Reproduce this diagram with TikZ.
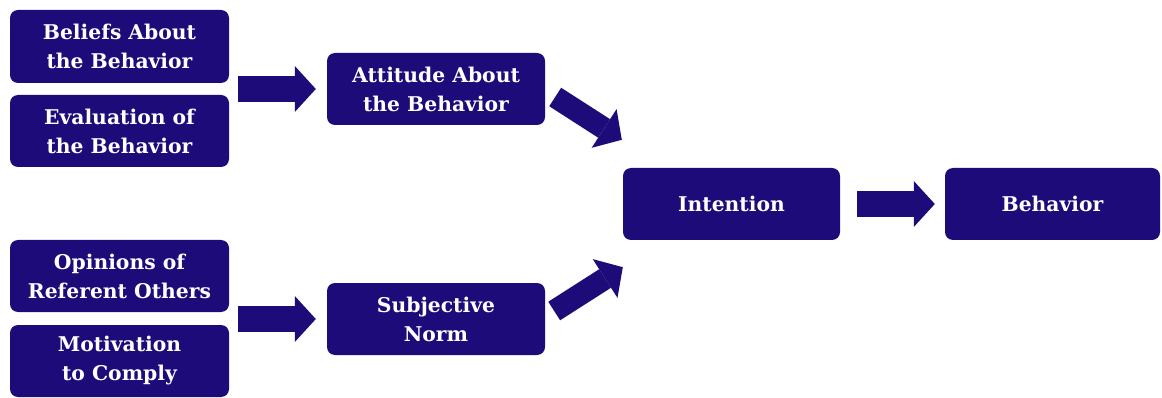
\documentclass[tikz,border=0pt]{standalone}
\usepackage{fontspec}
\setmainfont{DejaVu Serif}
\usetikzlibrary{arrows.meta,calc}
\definecolor{navy}{RGB}{29,11,122}
\tikzset{
  box/.style={fill=navy, rounded corners=8pt, text=white, align=center,
    inner sep=0pt, minimum width=219pt, minimum height=72pt,
    font=\fontsize{20.3}{29}\selectfont\bfseries},
  barrow/.style={draw=navy, line width=#1, line cap=butt,
    -{Triangle[length=21pt, width=46pt, line width=0pt]}},
  barrow/.default=26pt
}
\begin{document}
\begin{tikzpicture}[x=1pt,y=-1pt]
\useasboundingbox (0,0) rectangle (1162,398);
\node[box, minimum height=73pt] (bel) at (119.5,46.5) {Beliefs About\\the Behavior};
\node[box] (eva) at (119.5,131) {Evaluation of\\the Behavior};
\node[box, minimum width=218pt] (att) at (436,89) {Attitude About\\the Behavior};
\node[box] (opi) at (119.5,276) {Opinions of\\Referent Others};
\node[box] (mot) at (119.5,361) {Motivation\\to Comply};
\node[box, minimum width=218pt] (sub) at (436,319) {Subjective\\Norm};
\node[box, minimum width=217pt] (int) at (731.5,204) {Intention};
\node[box, minimum width=215pt] (beh) at (1052.5,204) {Behavior};
\coordinate (a1s) at ($(att.west)+(-89,0)$);
\coordinate (a1e) at ($(att.west)+(-11,0)$);
\coordinate (a2s) at ($(sub.west)+(-89,0)$);
\coordinate (a2e) at ($(sub.west)+(-11,0)$);
\coordinate (a3s) at ($(att.east)+(10,8)$);
\coordinate (a3e) at ($(int.north west)+(-1,-28)$);
\coordinate (a4s) at ($(sub.east)+(9,-8)$);
\coordinate (a4e) at ($(int.south west)+(0,27)$);
\coordinate (a5s) at ($(int.east)+(17,0)$);
\coordinate (a5e) at ($(beh.west)+(-10,0)$);
\draw[barrow] (a1s) -- (a1e);
\draw[barrow] (a2s) -- (a2e);
\draw[barrow=22pt] (a3s) -- (a3e);
\draw[barrow=22pt] (a4s) -- (a4e);
\draw[barrow] (a5s) -- (a5e);
\end{tikzpicture}
\end{document}
